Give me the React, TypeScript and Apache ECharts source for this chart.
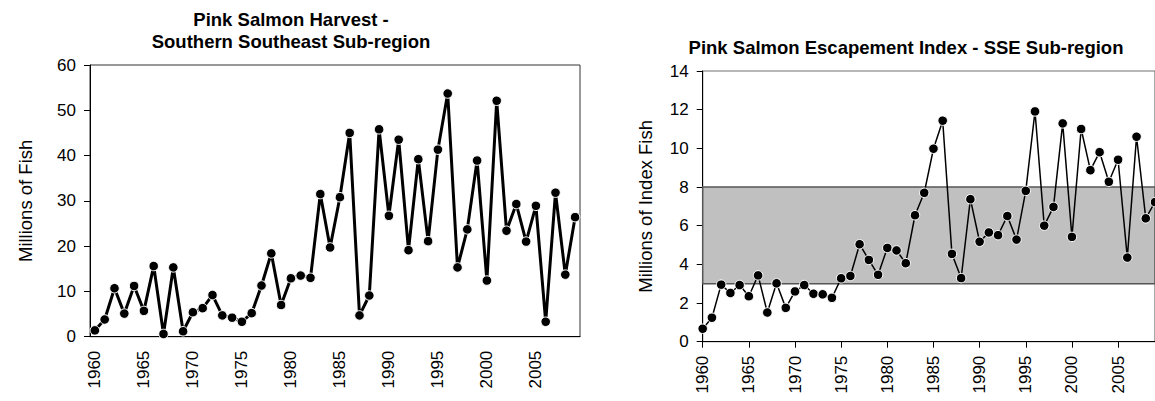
import React, { useEffect, useRef } from "react";
import * as echarts from "echarts";

const years = [
  "1960", "1961", "1962", "1963", "1964", "1965", "1966", "1967", "1968", "1969",
  "1970", "1971", "1972", "1973", "1974", "1975", "1976", "1977", "1978", "1979",
  "1980", "1981", "1982", "1983", "1984", "1985", "1986", "1987", "1988", "1989",
  "1990", "1991", "1992", "1993", "1994", "1995", "1996", "1997", "1998", "1999",
  "2000", "2001", "2002", "2003", "2004", "2005", "2006", "2007", "2008", "2009",
];

// Millions of fish harvested (SSE sub-region)
const harvest = [
  1.4, 3.8, 10.7, 5.1, 11.2, 5.7, 15.6, 0.6, 15.3, 1.2,
  5.4, 6.3, 9.2, 4.7, 4.2, 3.3, 5.2, 11.3, 18.4, 7.0,
  12.9, 13.5, 13.0, 31.5, 19.7, 30.8, 45.0, 4.7, 9.1, 45.8,
  26.7, 43.5, 19.1, 39.2, 21.1, 41.3, 53.7, 15.3, 23.7, 38.9,
  12.4, 52.1, 23.4, 29.3, 21.0, 28.9, 3.3, 31.8, 13.7, 26.4,
];

// Millions of index fish (escapement index)
const escapement = [
  0.67, 1.24, 2.95, 2.52, 2.93, 2.35, 3.43, 1.51, 3.02, 1.75,
  2.6, 2.93, 2.48, 2.45, 2.27, 3.28, 3.4, 5.04, 4.23, 3.46,
  4.85, 4.72, 4.06, 6.54, 7.7, 9.98, 11.43, 4.54, 3.29, 7.37,
  5.17, 5.65, 5.51, 6.5, 5.28, 7.8, 11.91, 6.0, 6.97, 11.29,
  5.42, 11.0, 8.87, 9.8, 8.27, 9.41, 4.35, 10.6, 6.38, 7.22,
];

const escapementGoal = [3, 8];

const leftTitle = ["Pink Salmon Harvest -", "Southern Southeast Sub-region"];
const rightTitle = "Pink Salmon Escapement Index - SSE Sub-region";
const leftYName = "Millions of Fish";
const rightYName = "Millions of Index Fish";

const FONT = '"Liberation Sans", Arial, Helvetica, sans-serif';

export default function App() {
  const ref = useRef<HTMLDivElement>(null);

  useEffect(() => {
    document.body.style.margin = "0";
    if (!ref.current) return;
    const chart = echarts.init(ref.current, undefined, { renderer: "svg" });

    const titleStyle = (text: string) => ({
      text,
      fontFamily: FONT,
      fontSize: 18.5,
      fontWeight: "bold",
      fill: "#000",
      textAlign: "center",
      textVerticalAlign: "middle",
    });

    const labelStyle = { fontFamily: FONT, fontSize: 17, color: "#000" };

    const option: any = {
      animation: false,
      textStyle: { fontFamily: FONT },
      graphic: [
        { type: "text", x: 291, y: 19, style: titleStyle(leftTitle[0]) },
        { type: "text", x: 291, y: 41, style: titleStyle(leftTitle[1]) },
        { type: "text", x: 906, y: 47, style: titleStyle(rightTitle) },
      ],
      grid: [
        {
          left: 90, top: 65, width: 490, height: 271.7,
          show: true, borderColor: "#333", borderWidth: 1,
          backgroundColor: "transparent",
        },
        {
          left: 702.7, top: 71, width: 454.7, height: 270.7,
          show: true, borderColor: "#707070", borderWidth: 1.2,
          backgroundColor: "transparent",
        },
      ],
      xAxis: [
        {
          type: "category", gridIndex: 0, data: years, boundaryGap: true,
          axisLine: { lineStyle: { color: "#000", width: 1 } },
          axisTick: { interval: 4, length: 6, lineStyle: { color: "#000" } },
          axisLabel: { ...labelStyle, interval: 4, rotate: 90, margin: 14 },
        },
        {
          type: "category", gridIndex: 1, data: years, boundaryGap: false,
          axisLine: { lineStyle: { color: "#000", width: 1 } },
          axisTick: { interval: 4, length: 6, lineStyle: { color: "#000" } },
          axisLabel: { ...labelStyle, interval: 4, rotate: 90, margin: 14 },
        },
      ],
      yAxis: [
        {
          type: "value", gridIndex: 0, min: 0, max: 60, interval: 10,
          splitLine: { show: false },
          axisLine: { show: true, lineStyle: { color: "#000", width: 1 } },
          axisTick: { show: true, length: 6, lineStyle: { color: "#000" } },
          axisLabel: { ...labelStyle, margin: 14 },
          name: leftYName, nameLocation: "middle", nameGap: 55,
          nameTextStyle: { fontFamily: FONT, fontSize: 18.5, color: "#000" },
        },
        {
          type: "value", gridIndex: 1, min: 0, max: 14, interval: 2,
          splitLine: { show: false },
          axisLine: { show: true, lineStyle: { color: "#000", width: 1 } },
          axisTick: { show: true, length: 6, lineStyle: { color: "#000" } },
          axisLabel: { ...labelStyle, margin: 14 },
          name: rightYName, nameLocation: "middle", nameGap: 48,
          nameTextStyle: { fontFamily: FONT, fontSize: 18.5, color: "#000" },
        },
      ],
      series: [
        {
          type: "line", xAxisIndex: 0, yAxisIndex: 0, data: harvest,
          symbol: "circle", symbolSize: 9.5, showAllSymbol: true,
          lineStyle: { color: "#000", width: 3 },
          itemStyle: { color: "#000", borderColor: "#fff", borderWidth: 1 },
          z: 3,
        },
        {
          type: "line", xAxisIndex: 1, yAxisIndex: 1, data: escapement,
          symbol: "circle", symbolSize: 9.5, showAllSymbol: true,
          lineStyle: { color: "#000", width: 1.5 },
          itemStyle: { color: "#000", borderColor: "#fff", borderWidth: 1 },
          z: 3,
          markArea: {
            silent: true,
            itemStyle: { color: "#c0c0c0", borderColor: "#555", borderWidth: 1.5 },
            data: [[{ yAxis: escapementGoal[0] }, { yAxis: escapementGoal[1] }]],
          },
        },
      ],
    };

    chart.setOption(option);
    return () => chart.dispose();
  }, []);

  return <div ref={ref} style={{ width: 1155, height: 401 }} />;
}
